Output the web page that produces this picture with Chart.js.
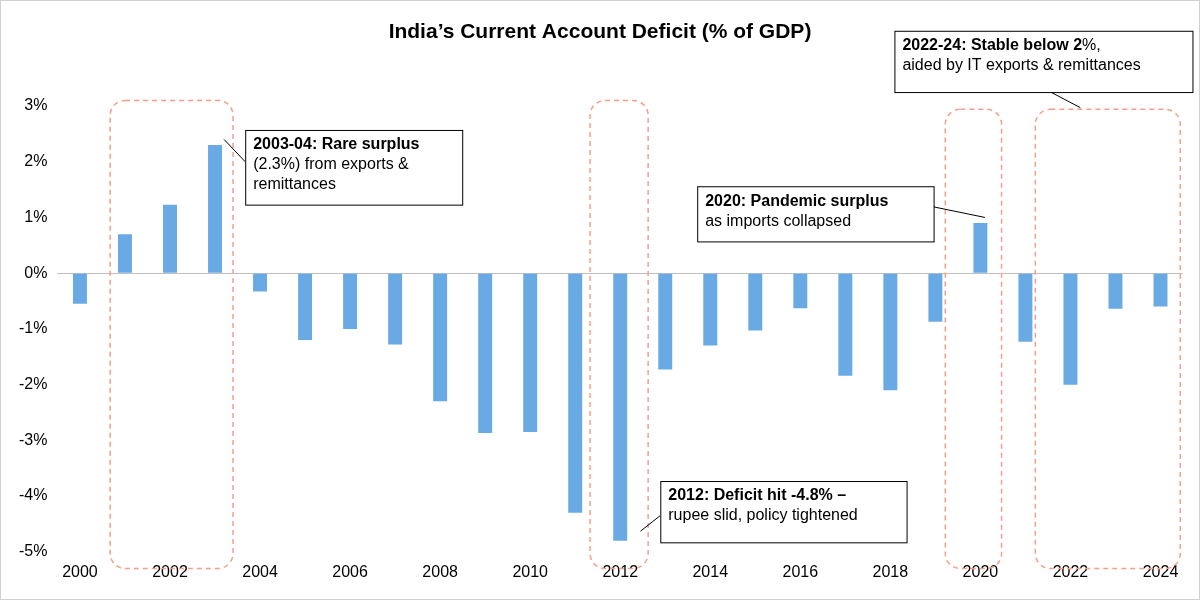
<!DOCTYPE html>
<html><head><meta charset="utf-8">
<script src="https://cdn.jsdelivr.net/npm/chart.js@4"></script>
<style>html,body{margin:0;background:#fff}#w{width:1200px;height:600px;box-sizing:border-box;border:1px solid #d0d0d0}canvas{display:block}</style>
</head><body><div id="w"><canvas id="c" width="1198" height="598"></canvas></div>
<script>
const years = ['2000','2001','2002','2003','2004','2005','2006','2007','2008','2009','2010','2011','2012','2013','2014','2015','2016','2017','2018','2019','2020','2021','2022','2023','2024'];
const cad = [-0.55,0.7,1.23,2.3,-0.33,-1.2,-1.0,-1.28,-2.3,-2.87,-2.85,-4.3,-4.8,-1.73,-1.3,-1.03,-0.63,-1.84,-2.1,-0.87,0.9,-1.23,-2.0,-0.64,-0.6];
const highlights = [[0.67,3.4,3.1],[11.33,12.62,3.1],[19.22,20.47,2.94],[21.22,24.44,2.94]];
const notes = [
 {x0:3.67,x1:8.49,y0:2.57,y1:1.23,line:[3.2,2.4,3.67,2.0],text:[[['2003-04: Rare surplus',1]],[['(2.3%) from exports &',0]],[['remittances',0]]]},
 {x0:13.71,x1:18.96,y0:1.56,y1:0.57,line:[18.96,1.19,20.1,1.0],text:[[['2020: Pandemic surplus',1]],[['as imports collapsed',0]]]},
 {x0:12.89,x1:18.36,y0:-3.73,y1:-4.83,line:[12.89,-4.35,12.45,-4.63],text:[[['2012: Deficit hit -4.8% –',1]],[['rupee slid, policy tightened',0]]]},
 {x0:18.09,x1:24.71,y0:4.35,y1:3.25,line:[21.56,3.25,22.22,2.97],text:[[['2022-24: Stable below 2',1],['%,',0]],[['aided by IT exports & remittances',0]]]}
];
const F='"Liberation Sans", Arial, sans-serif';
const deco={id:'deco',afterDatasetsDraw(ch){
 const c=ch.ctx,x=ch.scales.x,y=ch.scales.y;
 const X=i=>x.getPixelForValue(0)+(x.getPixelForValue(1)-x.getPixelForValue(0))*i,Y=v=>y.getPixelForValue(v);
 c.save();
 c.strokeStyle='#f4a08a';c.lineWidth=1.5;c.setLineDash([5,4]);
 highlights.forEach(h=>{c.beginPath();c.roundRect(X(h[0]),Y(h[2]),X(h[1])-X(h[0]),Y(-5.3)-Y(h[2]),15);c.stroke();});
 c.setLineDash([]);
 notes.forEach(n=>{
  c.strokeStyle='#000';c.lineWidth=1;
  c.beginPath();c.moveTo(X(n.line[0]),Y(n.line[1]));c.lineTo(X(n.line[2]),Y(n.line[3]));c.stroke();
  c.fillStyle='#fff';c.fillRect(X(n.x0),Y(n.y0),X(n.x1)-X(n.x0),Y(n.y1)-Y(n.y0));
  c.strokeRect(X(n.x0)+0.5,Y(n.y0)+0.5,X(n.x1)-X(n.x0),Y(n.y1)-Y(n.y0));
  c.fillStyle='#000';c.textBaseline='middle';
  n.text.forEach((ln,k)=>{let px=X(n.x0)+8;const py=Y(n.y0)+15+k*20;
   ln.forEach(s=>{c.font=(s[1]?'bold ':'')+'16px '+F;c.fillText(s[0],px,py);px+=c.measureText(s[0]).width;});});
 });
 c.font='bold 21px '+F;c.textAlign='center';c.fillStyle='#000';c.fillText('India’s Current Account Deficit (% of GDP)',599,31);
 c.restore();
}};
new Chart(document.getElementById('c'),{type:'bar',
 data:{labels:years,datasets:[{data:cad,backgroundColor:'#6aaae4',barPercentage:0.31,categoryPercentage:1}]},
 options:{responsive:false,animation:false,devicePixelRatio:1,
  layout:{padding:{top:105,right:16,left:8,bottom:14}},
  plugins:{legend:{display:false},tooltip:{enabled:false}},
  scales:{
   x:{grid:{display:false},border:{display:false},ticks:{autoSkip:false,maxRotation:0,color:'#000',font:{size:16,family:F},callback:(v,i)=>i%2===0?years[i]:''}},
   y:{min:-5,max:3,grid:{drawTicks:false,color:c=>c.tick.value===0?'#bfbfbf':'transparent'},border:{display:false},ticks:{stepSize:1,padding:10,color:'#000',font:{size:16,family:F},callback:v=>v+'%'}}
  }},
 plugins:[deco]});
</script>
</body></html>
